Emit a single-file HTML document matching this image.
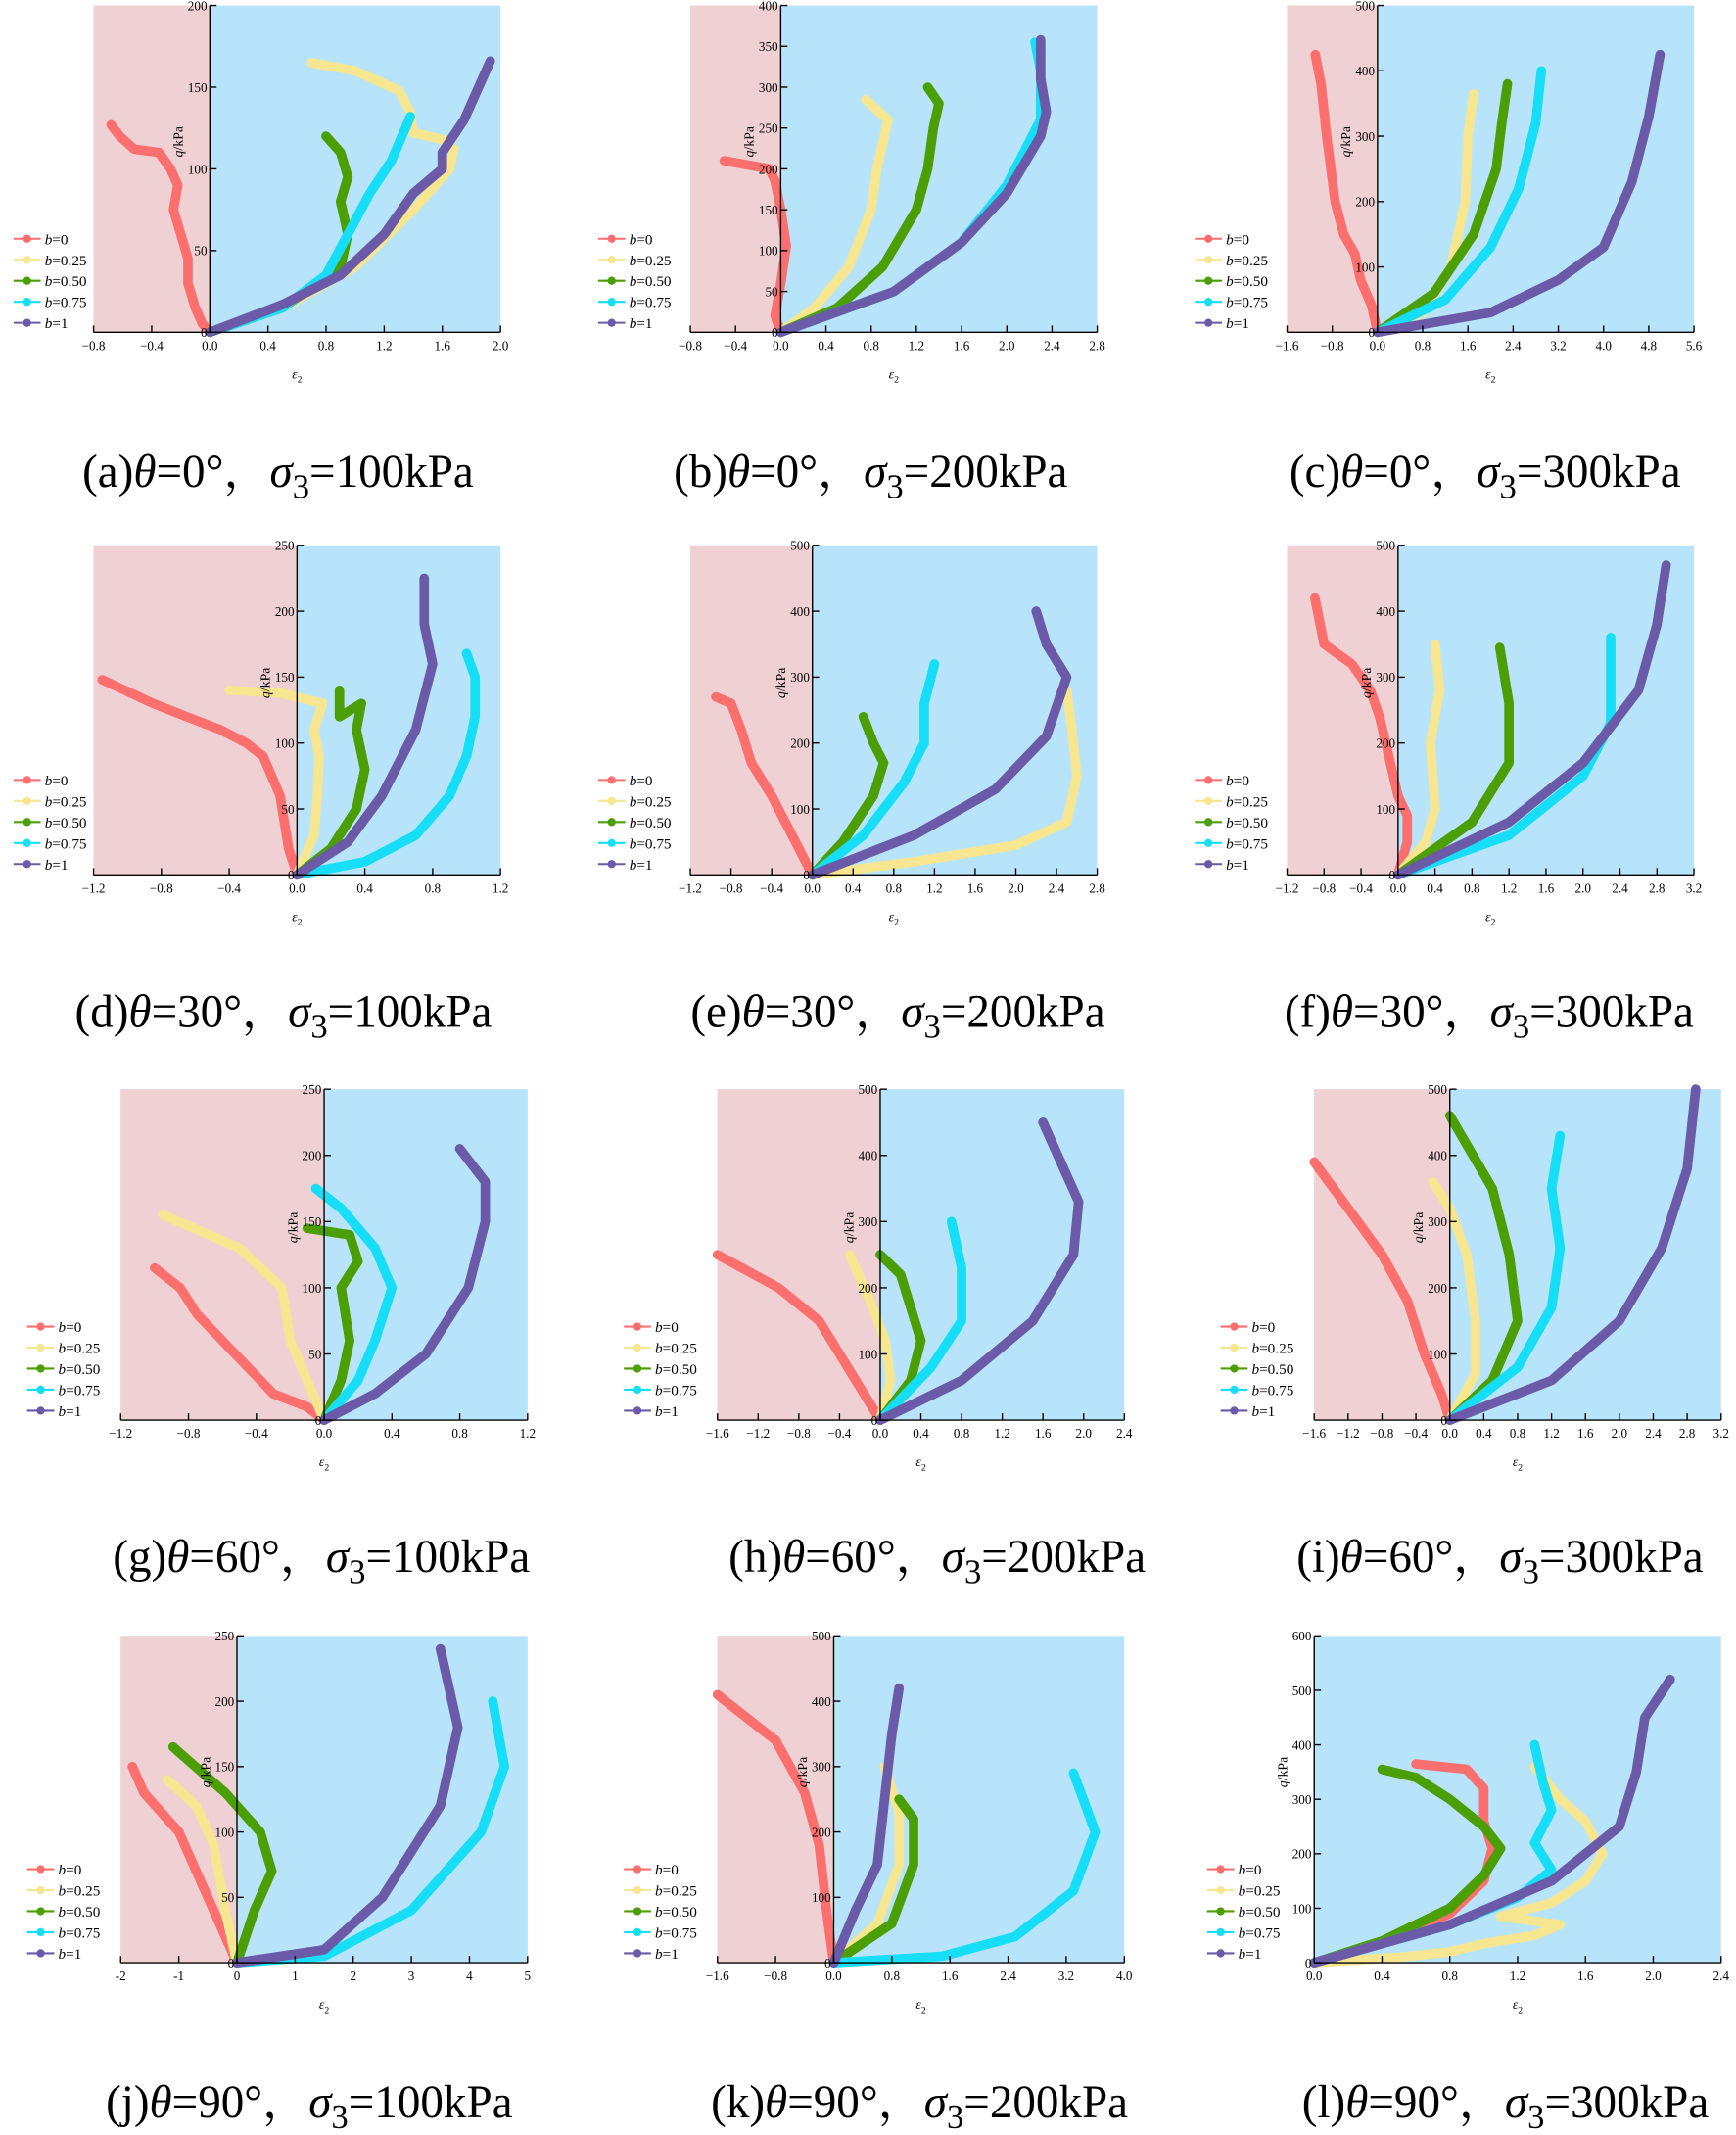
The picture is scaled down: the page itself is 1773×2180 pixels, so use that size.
<!DOCTYPE html>
<html><head><meta charset="utf-8"><style>
html,body{margin:0;padding:0;background:#fff;width:1773px;height:2180px;overflow:hidden}
svg{display:block}
</style></head><body>
<svg id="s" xmlns="http://www.w3.org/2000/svg" width="1773" height="2180" viewBox="0 0 1280 1574" preserveAspectRatio="none" font-family="'Liberation Serif','Noto Serif CJK SC',serif"></svg>
<script>
const C=['#fb6f6f','#f6e690','#4c9e05','#17def7','#6a5aa8'];
const L=['0','0.25','0.50','0.75','1'];
const P=[
{x0:69,x1:369,y0:4,y1:245,xmin:-0.8,xmax:2.0,xs:0.4,ymax:200,ys:50,lx:10,ly:176,cap:['a','0','100'],cx:205,cy:359,d:[
[[0,0],[-0.05,5],[-0.1,15],[-0.15,30],[-0.15,45],[-0.2,60],[-0.25,75],[-0.22,90],[-0.27,100],[-0.35,110],[-0.52,112],[-0.62,120],[-0.68,127]],
[[0,0],[0.5,15],[1.0,40],[1.4,75],[1.65,100],[1.68,112],[1.6,118],[1.4,122],[1.38,135],[1.3,148],[1.0,160],[0.7,165]],
[[0,0],[0.5,15],[0.9,40],[0.95,60],[0.9,80],[0.95,95],[0.9,110],[0.8,120]],
[[0,0],[0.5,15],[0.8,35],[0.95,60],[1.1,85],[1.25,105],[1.38,132]],
[[0,0],[0.5,17],[0.9,35],[1.2,60],[1.4,85],[1.6,100],[1.6,110],[1.75,130],[1.93,166]]]},
{x0:509,x1:809,y0:4,y1:245,xmin:-0.8,xmax:2.8,xs:0.4,ymax:400,ys:50,lx:441,ly:176,cap:['b','0','200'],cx:642,cy:359,d:[
[[0,0],[-0.05,20],[0,60],[0.05,105],[0,150],[-0.05,185],[-0.1,200],[-0.3,205],[-0.5,210]],
[[0,0],[0.3,30],[0.6,80],[0.8,150],[0.85,200],[0.9,230],[0.95,260],[0.75,285]],
[[0,0],[0.5,30],[0.9,80],[1.2,150],[1.3,200],[1.35,250],[1.4,280],[1.3,300]],
[[0,0],[1.0,50],[1.6,110],[2.0,180],[2.3,260],[2.3,320],[2.25,355]],
[[0,0],[1.0,50],[1.6,110],[2.0,170],[2.3,240],[2.35,270],[2.3,310],[2.3,358]]]},
{x0:949,x1:1249,y0:4,y1:245,xmin:-1.6,xmax:5.6,xs:0.8,ymax:500,ys:100,lx:881,ly:176,cap:['c','0','300'],cx:1095,cy:359,d:[
[[0,0],[-0.1,40],[-0.3,80],[-0.4,120],[-0.6,150],[-0.75,200],[-0.9,300],[-1.0,380],[-1.1,425]],
[[0,0],[0.8,30],[1.3,100],[1.55,200],[1.6,300],[1.7,365]],
[[0,0],[1.0,60],[1.7,150],[2.1,250],[2.2,320],[2.3,380]],
[[0,0],[1.2,50],[2.0,130],[2.5,220],[2.8,320],[2.9,400]],
[[0,0],[2,30],[3.2,80],[4.0,130],[4.5,230],[4.8,330],[5.0,425]]]},
{x0:69,x1:369,y0:402,y1:645,xmin:-1.2,xmax:1.2,xs:0.4,ymax:250,ys:50,lx:10,ly:575,cap:['d','30','100'],cx:209,cy:757,d:[
[[0,0],[-0.05,20],[-0.1,60],[-0.2,90],[-0.3,100],[-0.45,110],[-0.65,120],[-0.85,130],[-1.15,148]],
[[0,0],[0.1,30],[0.12,60],[0.13,90],[0.1,110],[0.15,130],[-0.1,138],[-0.4,140]],
[[0,0],[0.2,20],[0.35,50],[0.4,80],[0.35,110],[0.38,130],[0.25,120],[0.25,140]],
[[0,0],[0.4,10],[0.7,30],[0.9,60],[1.0,90],[1.05,120],[1.05,150],[1.0,168]],
[[0,0],[0.3,25],[0.5,60],[0.7,110],[0.8,160],[0.75,190],[0.75,225]]]},
{x0:509,x1:809,y0:402,y1:645,xmin:-1.2,xmax:2.8,xs:0.4,ymax:500,ys:100,lx:441,ly:575,cap:['e','30','200'],cx:662,cy:757,d:[
[[0,0],[-0.2,60],[-0.4,120],[-0.6,170],[-0.7,220],[-0.8,260],[-0.95,270]],
[[0,0],[1.0,20],[2.0,45],[2.5,80],[2.6,150],[2.55,220],[2.5,280]],
[[0,0],[0.3,50],[0.6,120],[0.7,170],[0.6,200],[0.5,240]],
[[0,0],[0.5,60],[0.9,140],[1.1,200],[1.1,260],[1.2,320]],
[[0,0],[1.0,60],[1.8,130],[2.3,210],[2.5,300],[2.3,350],[2.2,400]]]},
{x0:949,x1:1249,y0:402,y1:645,xmin:-1.2,xmax:3.2,xs:0.4,ymax:500,ys:100,lx:881,ly:575,cap:['f','30','300'],cx:1098,cy:757,d:[
[[0,0],[0.1,50],[0.1,90],[0,120],[-0.1,180],[-0.2,240],[-0.3,280],[-0.5,320],[-0.8,350],[-0.9,420]],
[[0,0],[0.3,50],[0.4,100],[0.35,200],[0.45,280],[0.4,350]],
[[0,0],[0.8,80],[1.2,170],[1.2,260],[1.1,345]],
[[0,0],[1.2,60],[2.0,150],[2.3,230],[2.3,300],[2.3,360]],
[[0,0],[1.2,80],[2.0,170],[2.6,280],[2.8,380],[2.9,470]]]},
{x0:89,x1:389,y0:803,y1:1047,xmin:-1.2,xmax:1.2,xs:0.4,ymax:250,ys:50,lx:20,ly:978,cap:['g','60','100'],cx:237,cy:1159,d:[
[[0,0],[-0.1,10],[-0.3,20],[-0.45,40],[-0.6,60],[-0.75,80],[-0.85,100],[-1.0,115]],
[[0,0],[-0.1,30],[-0.2,60],[-0.25,100],[-0.5,130],[-0.95,155]],
[[0,0],[0.1,30],[0.15,60],[0.1,100],[0.2,120],[0.15,140],[-0.1,145]],
[[0,0],[0.2,30],[0.3,60],[0.4,100],[0.3,130],[0.1,160],[-0.05,175]],
[[0,0],[0.3,20],[0.6,50],[0.85,100],[0.95,150],[0.95,180],[0.8,205]]]},
{x0:529,x1:829,y0:803,y1:1047,xmin:-1.6,xmax:2.4,xs:0.4,ymax:500,ys:100,lx:460,ly:978,cap:['h','60','200'],cx:691,cy:1159,d:[
[[0,0],[-0.2,50],[-0.4,100],[-0.6,150],[-1.0,200],[-1.6,250]],
[[0,0],[0.1,60],[0.05,120],[-0.1,180],[-0.3,250]],
[[0,0],[0.3,60],[0.4,120],[0.3,170],[0.2,220],[0,250]],
[[0,0],[0.5,80],[0.8,150],[0.8,230],[0.7,300]],
[[0,0],[0.8,60],[1.5,150],[1.9,250],[1.95,330],[1.6,450]]]},
{x0:969,x1:1269,y0:803,y1:1047,xmin:-1.6,xmax:3.2,xs:0.4,ymax:500,ys:100,lx:900,ly:978,cap:['i','60','300'],cx:1106,cy:1159,d:[
[[0,0],[-0.1,40],[-0.3,100],[-0.5,180],[-0.8,250],[-1.2,320],[-1.6,390]],
[[0,0],[0.3,70],[0.3,150],[0.2,250],[0,320],[-0.2,360]],
[[0,0],[0.5,60],[0.8,150],[0.7,250],[0.5,350],[0,460]],
[[0,0],[0.8,80],[1.2,170],[1.3,260],[1.2,350],[1.3,430]],
[[0,0],[1.2,60],[2.0,150],[2.5,260],[2.8,380],[2.9,500]]]},
{x0:89,x1:389,y0:1206,y1:1447,xmin:-2,xmax:5,xs:1,ymax:250,ys:50,lx:20,ly:1378,cap:['j','90','100'],cx:228,cy:1561,d:[
[[0,0],[-0.2,20],[-0.6,60],[-1.0,100],[-1.6,130],[-1.8,150]],
[[0,0],[-0.2,40],[-0.4,90],[-0.7,120],[-1.2,140]],
[[0,0],[0.3,40],[0.6,70],[0.4,100],[-0.2,130],[-1.1,165]],
[[0,0],[1.5,5],[3,40],[4.2,100],[4.6,150],[4.4,200]],
[[0,0],[1.5,10],[2.5,50],[3.5,120],[3.8,180],[3.5,240]]]},
{x0:529,x1:829,y0:1206,y1:1447,xmin:-1.6,xmax:4.0,xs:0.8,ymax:500,ys:100,lx:460,ly:1378,cap:['k','90','200'],cx:678,cy:1561,d:[
[[0,0],[-0.1,80],[-0.2,180],[-0.4,260],[-0.8,340],[-1.6,410]],
[[0,0],[0.6,60],[0.9,150],[0.9,230],[0.7,300]],
[[0,0],[0.8,60],[1.1,150],[1.1,220],[0.9,250]],
[[0,0],[1.5,10],[2.5,40],[3.3,110],[3.6,200],[3.3,290]],
[[0,0],[0.3,80],[0.6,150],[0.7,250],[0.8,350],[0.9,420]]]},
{x0:969,x1:1269,y0:1206,y1:1447,xmin:0,xmax:2.4,xs:0.4,ymax:600,ys:100,lx:890,ly:1378,cap:['l','90','300'],cx:1110,cy:1561,d:[
[[0,0],[0.4,35],[0.8,90],[1.0,150],[1.05,210],[1.0,260],[1.0,320],[0.9,355],[0.6,365]],
[[0,0],[0.5,10],[0.8,20],[1.0,35],[1.3,50],[1.45,70],[1.1,85],[1.4,110],[1.6,150],[1.7,200],[1.6,260],[1.45,300],[1.3,360]],
[[0,0],[0.4,40],[0.8,100],[1.0,160],[1.1,210],[1.0,250],[0.8,300],[0.6,340],[0.4,355]],
[[0,0],[0.8,70],[1.2,120],[1.4,170],[1.3,220],[1.4,280],[1.35,330],[1.3,400]],
[[0,0],[0.8,70],[1.4,150],[1.8,250],[1.9,350],[1.95,450],[2.1,520]]]}
];
let o='';
function fmt(v,s){return s>=1?String(Math.round(v)):v.toFixed(1).replace('-','\u2212');}
for(const p of P){
 const X=v=>p.x0+(v-p.xmin)/(p.xmax-p.xmin)*(p.x1-p.x0);
 const Y=v=>p.y1-v/p.ymax*(p.y1-p.y0);
 const z=X(0);
 o+=`<rect x="${p.x0}" y="${p.y0}" width="${p.x1-p.x0}" height="${p.y1-p.y0}" fill="#b8e4fb"/>`;
 if(z>p.x0+1)o+=`<rect x="${p.x0}" y="${p.y0}" width="${z-p.x0}" height="${p.y1-p.y0}" fill="#efd0d3"/>`;
 p.d.forEach((s,i)=>{
  const pts=s.map(q=>X(q[0]).toFixed(1)+','+Y(q[1]).toFixed(1)).join(' ');
  o+=`<polyline points="${pts}" fill="none" stroke="${C[i]}" stroke-width="7" stroke-linejoin="round" stroke-linecap="round"/>`;
 });
 o+=`<line x1="${p.x0}" y1="${p.y1}" x2="${p.x1}" y2="${p.y1}" stroke="#000" stroke-width="1"/>`;
 o+=`<line x1="${z}" y1="${p.y0}" x2="${z}" y2="${p.y1}" stroke="#000" stroke-width="1"/>`;
 const n=Math.round((p.xmax-p.xmin)/p.xs);
 for(let k=0;k<=n;k++){const v=p.xmin+k*p.xs,x=X(v);
  o+=`<line x1="${x}" y1="${p.y1}" x2="${x}" y2="${p.y1-5}" stroke="#000"/>`;
  o+=`<text x="${x}" y="${p.y1+13}" font-size="9.5" text-anchor="middle">${fmt(Math.abs(v)<1e-9?0:v,p.xs)}</text>`;}
 for(let v=0;v<=p.ymax;v+=p.ys){const y=Y(v);
  o+=`<line x1="${z}" y1="${y}" x2="${z+5}" y2="${y}" stroke="#000"/>`;
  o+=`<text x="${z-2}" y="${y+3.5}" font-size="9.5" text-anchor="end">${v}</text>`;}
 const ym=(p.y0+p.y1)/2-20;
 o+=`<text transform="translate(${z-20},${ym}) rotate(-90)" font-size="10" text-anchor="middle"><tspan font-style="italic">q</tspan>/kPa</text>`;
 o+=`<text x="${(p.x0+p.x1)/2}" y="${p.y1+34}" font-size="10" text-anchor="middle"><tspan font-style="italic">ε</tspan><tspan font-size="7" dy="3">2</tspan></text>`;
 for(let i=0;i<5;i++){const y=p.ly+i*15.5;
  o+=`<line x1="${p.lx}" y1="${y}" x2="${p.lx+20}" y2="${y}" stroke="${C[i]}" stroke-width="1.5"/>`;
  o+=`<circle cx="${p.lx+10}" cy="${y}" r="3" fill="${C[i]}"/>`;
  o+=`<text x="${p.lx+23}" y="${y+4}" font-size="11"><tspan font-style="italic">b</tspan>=${L[i]}</text>`;}
 const c=p.cap;
 o+=`<text x="${p.cx}" y="${p.cy}" font-size="34" text-anchor="middle">(${c[0]})<tspan font-style="italic">θ</tspan>=${c[1]}°，<tspan font-style="italic">σ</tspan><tspan font-size="25" dy="8">3</tspan><tspan dy="-8">=${c[2]}kPa</tspan></text>`;
}
document.getElementById('s').innerHTML=o;
</script>
</body></html>
